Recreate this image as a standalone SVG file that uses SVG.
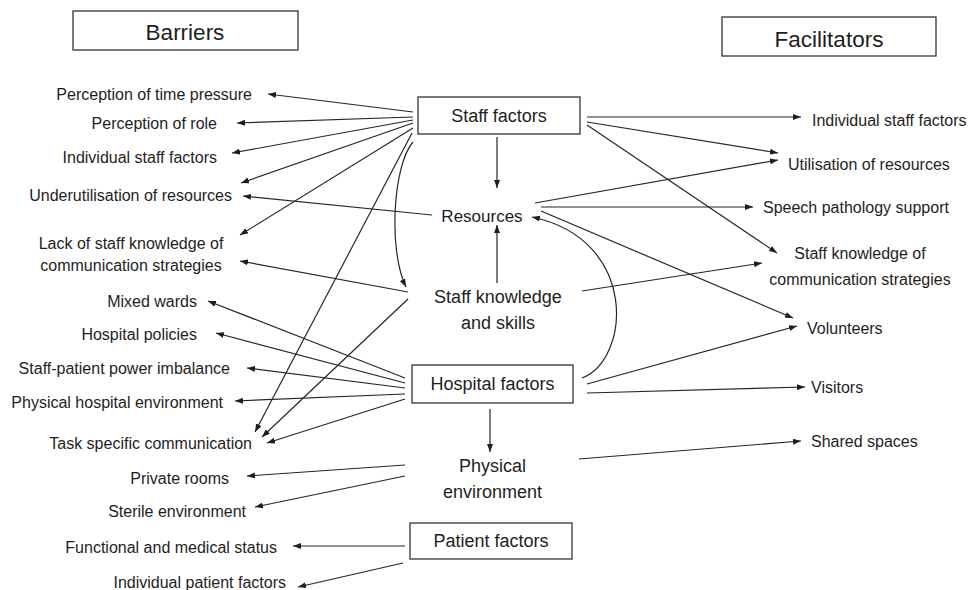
<svg xmlns="http://www.w3.org/2000/svg" width="969" height="590" viewBox="0 0 969 590">
<style>
text{font-family:"Liberation Sans",Arial,sans-serif;fill:#1e1e1e}
.lbl{font-size:16px}
.nd{font-size:18px;text-anchor:middle}
.hd{font-size:22.5px;text-anchor:middle}
.e{text-anchor:end}
.m{text-anchor:middle}
.box{fill:#fff;stroke:#333;stroke-width:1.3}
.c line,.c path{stroke:#262626;stroke-width:1.2;fill:none;marker-end:url(#ah)}
</style>
<defs>
<marker id="ah" markerUnits="userSpaceOnUse" markerWidth="8" markerHeight="6" refX="8" refY="3" orient="auto">
<path d="M0,0 L8,3 L0,6 z" fill="#1e1e1e"/>
</marker>
</defs>
<rect width="969" height="590" fill="#fff"/>
<g id="barriers"><rect class="box" x="73" y="11" width="225" height="39"/><text class="hd" x="185" y="40">Barriers</text></g>
<g id="facilitators"><rect class="box" x="722" y="17" width="214" height="39"/><text class="hd" x="829" y="47">Facilitators</text></g>
<g id="staff-factors"><rect class="box" x="418" y="97" width="162" height="37"/><text class="nd" x="499" y="122">Staff factors</text></g>
<g id="resources"><text class="nd" style="font-size:17px" x="482" y="222">Resources</text></g>
<g id="staff-knowledge"><text class="nd" x="498" y="303">Staff knowledge</text><text class="nd" x="498" y="329">and skills</text></g>
<g id="hospital-factors"><rect class="box" x="412" y="365" width="161" height="38"/><text class="nd" x="492.5" y="390">Hospital factors</text></g>
<g id="physical-environment"><text class="nd" x="492.5" y="472">Physical</text><text class="nd" x="492.5" y="498">environment</text></g>
<g id="patient-factors"><rect class="box" x="410" y="523" width="162" height="36"/><text class="nd" x="491" y="547">Patient factors</text></g>
<g id="b-time"><text class="lbl e" x="252" y="100">Perception of time pressure</text></g>
<g id="b-role"><text class="lbl e" x="217" y="129">Perception of role</text></g>
<g id="b-indiv-staff"><text class="lbl e" x="217" y="163">Individual staff factors</text></g>
<g id="b-underutil"><text class="lbl e" x="232" y="201">Underutilisation of resources</text></g>
<g id="b-lack"><text class="lbl m" x="131" y="249">Lack of staff knowledge of</text><text class="lbl m" x="131" y="271">communication strategies</text></g>
<g id="b-mixed"><text class="lbl e" x="197" y="307">Mixed wards</text></g>
<g id="b-policies"><text class="lbl e" x="197" y="340">Hospital policies</text></g>
<g id="b-power"><text class="lbl e" x="230" y="374">Staff-patient power imbalance</text></g>
<g id="b-phys-hosp"><text class="lbl e" x="223" y="408">Physical hospital environment</text></g>
<g id="b-task"><text class="lbl e" x="252" y="449">Task specific communication</text></g>
<g id="b-private"><text class="lbl e" x="229" y="484">Private rooms</text></g>
<g id="b-sterile"><text class="lbl e" x="246" y="517">Sterile environment</text></g>
<g id="b-functional"><text class="lbl e" x="277" y="553">Functional and medical status</text></g>
<g id="b-indiv-patient"><text class="lbl e" x="286" y="588">Individual patient factors</text></g>
<g id="f-indiv-staff"><text class="lbl" x="812" y="126">Individual staff factors</text></g>
<g id="f-util"><text class="lbl" x="788" y="170">Utilisation of resources</text></g>
<g id="f-speech"><text class="lbl" x="763" y="213">Speech pathology support</text></g>
<g id="f-knowledge"><text class="lbl m" x="860" y="259">Staff knowledge of</text><text class="lbl m" x="860" y="285">communication strategies</text></g>
<g id="f-volunteers"><text class="lbl" x="807" y="334">Volunteers</text></g>
<g id="f-visitors"><text class="lbl" x="811" y="393">Visitors</text></g>
<g id="f-shared"><text class="lbl" x="811" y="447">Shared spaces</text></g>
<g id="connectors" class="c">
<line x1="413" y1="112" x2="268" y2="94"/>
<line x1="413" y1="117" x2="237" y2="123"/>
<line x1="413" y1="120" x2="232" y2="153"/>
<line x1="413" y1="123" x2="241" y2="183"/>
<line x1="413" y1="128" x2="240" y2="235"/>
<line x1="412" y1="133" x2="255" y2="432"/>
<path d="M413,142 C393,165 388,250 406,287"/>
<line x1="497" y1="137" x2="497" y2="188"/>
<line x1="587" y1="117" x2="801" y2="117"/>
<line x1="587" y1="122" x2="778" y2="153"/>
<line x1="587" y1="125" x2="777" y2="253"/>
<line x1="432" y1="215" x2="243" y2="196"/>
<line x1="535" y1="203" x2="778" y2="160"/>
<line x1="541" y1="207" x2="753" y2="207"/>
<line x1="541" y1="211" x2="793" y2="318"/>
<line x1="497" y1="283" x2="497" y2="225"/>
<line x1="408" y1="292" x2="240" y2="261"/>
<line x1="408" y1="299" x2="262" y2="437"/>
<line x1="582" y1="291" x2="762" y2="263"/>
<line x1="405" y1="378" x2="208" y2="301"/>
<line x1="405" y1="383" x2="216" y2="333"/>
<line x1="405" y1="388" x2="247" y2="368"/>
<line x1="405" y1="394" x2="235" y2="401"/>
<line x1="405" y1="399" x2="267" y2="443"/>
<line x1="490" y1="409" x2="490" y2="452"/>
<path d="M582,378 C630,360 640,240 532,217"/>
<line x1="587" y1="384" x2="797" y2="326"/>
<line x1="587" y1="393" x2="805" y2="387"/>
<line x1="405" y1="465" x2="247" y2="476"/>
<line x1="405" y1="476" x2="255" y2="507"/>
<line x1="579" y1="459" x2="801" y2="441"/>
<line x1="405" y1="546" x2="293" y2="546"/>
<line x1="403" y1="563" x2="298" y2="587"/>
</g>
</svg>
